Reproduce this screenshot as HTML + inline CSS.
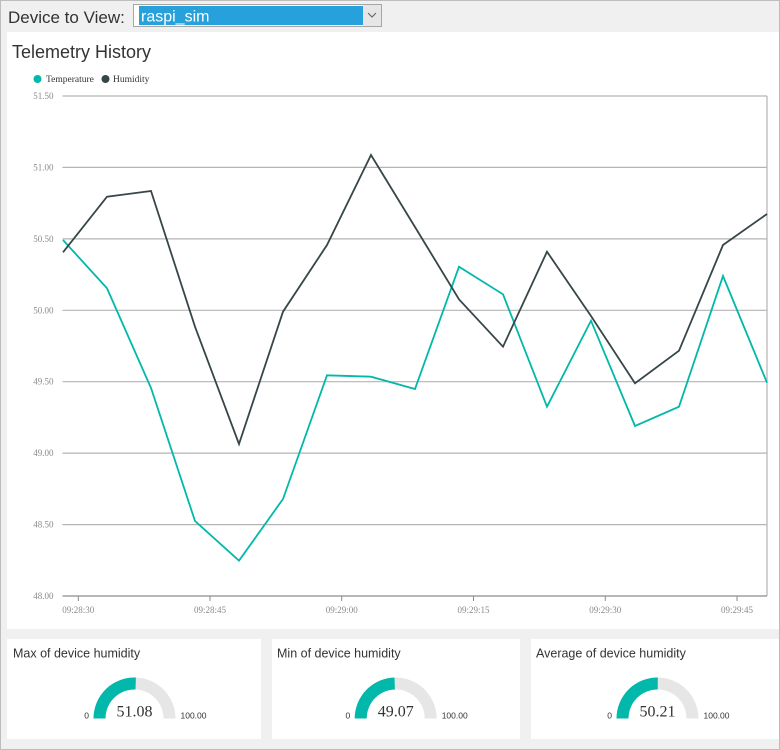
<!DOCTYPE html>
<html>
<head>
<meta charset="utf-8">
<style>
  html, body { margin:0; padding:0; background:#f0f0f0; }
  body { width:780px; height:750px; overflow:hidden; }
  svg { display:block; }
  .sans { font-family: "Liberation Sans", "DejaVu Sans", sans-serif; }
  .serif { font-family: "Liberation Serif", "DejaVu Serif", serif; }
</style>
</head>
<body>
<svg width="780" height="750" viewBox="0 0 780 750" xmlns="http://www.w3.org/2000/svg">
  <!-- page background & outer border -->
  <rect x="0" y="0" width="780" height="750" fill="#f0f0f0"/>
  <rect x="0.5" y="0.5" width="779" height="749" fill="none" stroke="#bdbdbd" stroke-width="1"/>

  <!-- header -->
  <text x="8" y="23" class="sans" font-size="17" fill="#333">Device to View:</text>
  <rect x="133.5" y="4.5" width="248" height="22" fill="#ffffff" stroke="#a6a6a6"/>
  <rect x="139" y="6" width="224" height="19" fill="#27a1dc"/>
  <rect x="363" y="5" width="18" height="21" fill="#e6e6e6"/>
  <polyline points="368,13 372,17 376,13" fill="none" stroke="#606060" stroke-width="1"/>
  <text x="141" y="21.5" class="sans" font-size="16" fill="#ffffff">raspi_sim</text>

  <!-- chart panel -->
  <rect x="7" y="32" width="772" height="597" fill="#ffffff"/>
  <text x="12" y="58" class="sans" font-size="18" fill="#333">Telemetry History</text>

  <!-- legend -->
  <circle cx="37.5" cy="79" r="4" fill="#01b8aa"/>
  <text x="46" y="82" class="serif" font-size="9.5" fill="#333">Temperature</text>
  <circle cx="105.5" cy="79" r="4" fill="#374649"/>
  <text x="113" y="82" class="serif" font-size="9.5" fill="#333">Humidity</text>

  <!-- gridlines -->
  <g stroke="#b4b4b4" stroke-width="1.2">
    <line x1="62.5" y1="96" x2="767" y2="96"/>
    <line x1="62.5" y1="167.4" x2="767" y2="167.4"/>
    <line x1="62.5" y1="238.9" x2="767" y2="238.9"/>
    <line x1="62.5" y1="310.3" x2="767" y2="310.3"/>
    <line x1="62.5" y1="381.7" x2="767" y2="381.7"/>
    <line x1="62.5" y1="453.1" x2="767" y2="453.1"/>
    <line x1="62.5" y1="524.6" x2="767" y2="524.6"/>
    <line x1="767" y1="96" x2="767" y2="596"/>
  </g>
  <line x1="62.5" y1="596" x2="767" y2="596" stroke="#8c8c8c" stroke-width="1.2"/>

  <!-- y labels -->
  <g class="serif" font-size="9" fill="#8a8a8a" text-anchor="end">
    <text x="53.5" y="99">51.50</text>
    <text x="53.5" y="170.4">51.00</text>
    <text x="53.5" y="241.9">50.50</text>
    <text x="53.5" y="313.3">50.00</text>
    <text x="53.5" y="384.7">49.50</text>
    <text x="53.5" y="456.1">49.00</text>
    <text x="53.5" y="527.6">48.50</text>
    <text x="53.5" y="599">48.00</text>
  </g>

  <!-- x ticks & labels -->
  <g stroke="#8c8c8c" stroke-width="1">
    <line x1="78.3" y1="596" x2="78.3" y2="601"/>
    <line x1="210" y1="596" x2="210" y2="601"/>
    <line x1="341.7" y1="596" x2="341.7" y2="601"/>
    <line x1="473.5" y1="596" x2="473.5" y2="601"/>
    <line x1="605.3" y1="596" x2="605.3" y2="601"/>
    <line x1="737" y1="596" x2="737" y2="601"/>
  </g>
  <g class="serif" font-size="9" fill="#8a8a8a" text-anchor="middle">
    <text x="78.3" y="613">09:28:30</text>
    <text x="210" y="613">09:28:45</text>
    <text x="341.7" y="613">09:29:00</text>
    <text x="473.5" y="613">09:29:15</text>
    <text x="605.3" y="613">09:29:30</text>
    <text x="737" y="613">09:29:45</text>
  </g>

  <!-- series -->
  <polyline fill="none" stroke="#01b8aa" stroke-width="1.8" stroke-linejoin="miter"
    points="63,240 107,288.3 151,388 195,521 239,560.7 283,499 327,375.3 371,376.7 415,389 459,266.7 503,294.3 547,406.7 591,320.7 635,426 679,406.7 723,276 767,382.7"/>
  <polyline fill="none" stroke="#374649" stroke-width="1.8" stroke-linejoin="miter"
    points="63,252.3 107,196.7 151,191 195,326.7 239,444 283,311.7 327,245 371,155 415,227 459,299.3 503,346.7 547,251.7 591,316 635,383.3 679,350.7 723,245 767,214"/>

  <!-- gauge panels -->
  <rect x="7" y="639" width="254" height="100" fill="#ffffff"/>
  <rect x="272" y="639" width="248" height="100" fill="#ffffff"/>
  <rect x="531" y="639" width="248" height="100" fill="#ffffff"/>

  <g class="sans" font-size="12.5" fill="#333">
    <text x="13" y="657.5">Max of device humidity</text>
    <text x="277" y="657.5">Min of device humidity</text>
    <text x="536" y="657.5">Average of device humidity</text>
  </g>

  <!-- gauge 1 -->
  <g transform="translate(134.5,718.5)">
    <path d="M -41 0 A 41 41 0 0 1 41 0 L 29 0 A 29 29 0 0 0 -29 0 Z" fill="#e6e6e6"/>
    <path d="M -41 0 A 41 41 0 0 1 1.4 -41 L 1 -29 A 29 29 0 0 0 -29 0 Z" fill="#01b8aa"/>
    <text x="0" y="-2" class="serif" font-size="16" fill="#333" text-anchor="middle">51.08</text>
    <text x="-45.5" y="0" class="sans" font-size="8.5" fill="#333" text-anchor="end">0</text>
    <text x="46" y="0" class="sans" font-size="8.5" fill="#333">100.00</text>
  </g>
  <!-- gauge 2 -->
  <g transform="translate(395.7,718.5)">
    <path d="M -41 0 A 41 41 0 0 1 41 0 L 29 0 A 29 29 0 0 0 -29 0 Z" fill="#e6e6e6"/>
    <path d="M -41 0 A 41 41 0 0 1 -1.2 -41 L -0.8 -29 A 29 29 0 0 0 -29 0 Z" fill="#01b8aa"/>
    <text x="0" y="-2" class="serif" font-size="16" fill="#333" text-anchor="middle">49.07</text>
    <text x="-45.5" y="0" class="sans" font-size="8.5" fill="#333" text-anchor="end">0</text>
    <text x="46" y="0" class="sans" font-size="8.5" fill="#333">100.00</text>
  </g>
  <!-- gauge 3 -->
  <g transform="translate(657.5,718.5)">
    <path d="M -41 0 A 41 41 0 0 1 41 0 L 29 0 A 29 29 0 0 0 -29 0 Z" fill="#e6e6e6"/>
    <path d="M -41 0 A 41 41 0 0 1 0.3 -41 L 0.2 -29 A 29 29 0 0 0 -29 0 Z" fill="#01b8aa"/>
    <text x="0" y="-2" class="serif" font-size="16" fill="#333" text-anchor="middle">50.21</text>
    <text x="-45.5" y="0" class="sans" font-size="8.5" fill="#333" text-anchor="end">0</text>
    <text x="46" y="0" class="sans" font-size="8.5" fill="#333">100.00</text>
  </g>
</svg>
</body>
</html>
